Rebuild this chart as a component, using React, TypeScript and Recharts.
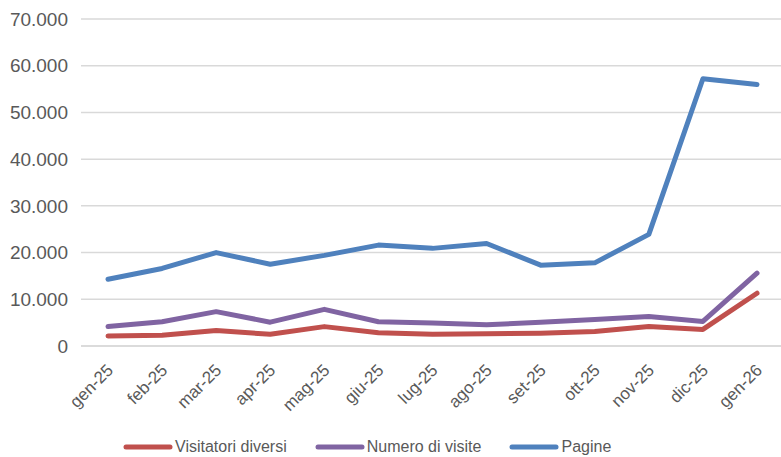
import React from "react";
import { LineChart, Line, XAxis, YAxis, CartesianGrid, Legend } from "recharts";

const months = ["gen-25","feb-25","mar-25","apr-25","mag-25","giu-25","lug-25","ago-25","set-25","ott-25","nov-25","dic-25","gen-26"];
const visitatori = [2150, 2300, 3300, 2500, 4150, 2850, 2500, 2600, 2750, 3100, 4150, 3550, 11300];
const visite = [4150, 5200, 7350, 5100, 7850, 5200, 4950, 4550, 5100, 5650, 6300, 5250, 15600];
const pagine = [14300, 16600, 20000, 17500, 19400, 21600, 20900, 21950, 17300, 17800, 23900, 57200, 56000];
const yTicks = [0, 10000, 20000, 30000, 40000, 50000, 60000, 70000];

const seriesNames = ["Visitatori diversi", "Numero di visite", "Pagine"];
const seriesKeys = ["visitatori", "visite", "pagine"];
const colors = ["#C0504D", "#8064A2", "#4F81BD"];

const data = months.map((m, i) => ({
  month: m,
  visitatori: visitatori[i],
  visite: visite[i],
  pagine: pagine[i],
}));

const FONT = "'Liberation Sans', Arial, sans-serif";
const fmtDots = (v: number) => {
  if (v === 0) return "0";
  return String(v).replace(/\B(?=(\d{3})+(?!\d))/g, ".");
};

const XTick = (props: any) => {
  const { x, y, payload } = props;
  return (
    <g transform={`translate(${x + 2},${y + 13})`}>
      <text
        x={0}
        y={0}
        dy={6}
        textAnchor="end"
        transform="rotate(-45)"
        fill="#595959"
        fontSize={17}
        fontFamily={FONT}
      >
        {payload.value}
      </text>
    </g>
  );
};

const LegendContent = () => (
  <div
    style={{
      display: "flex",
      justifyContent: "flex-start",
      alignItems: "center",
      paddingTop: 12,
      paddingLeft: 123,
      fontFamily: FONT,
      fontSize: 16,
      color: "#595959",
    }}
  >
    {seriesNames.map((n, i) => (
      <div key={n} style={{ display: "flex", alignItems: "center", marginRight: i < 2 ? 28 : 0 }}>
        <svg width={50} height={8} style={{ marginRight: 2 }}>
          <line x1={3} y1={4} x2={47} y2={4} stroke={colors[i]} strokeWidth={5} strokeLinecap="round" />
        </svg>
        <span>{n}</span>
      </div>
    ))}
  </div>
);

export default function App() {
  return (
    <div style={{ position: "absolute", left: 0, top: 0, width: 781, height: 457, background: "#fff" }}>
      <LineChart
        width={781}
        height={457}
        data={data}
        margin={{ top: 19, right: -3, bottom: 0, left: 0 }}
      >
        <CartesianGrid vertical={false} stroke="#D9D9D9" strokeWidth={1.5} />
        <XAxis
          dataKey="month"
          axisLine={{ stroke: "#D9D9D9", strokeWidth: 1.5 }}
          tickLine={false}
          interval={0}
          height={80}
          padding={{ left: 27, right: 27 }}
          tick={<XTick />}
        />
        <YAxis
          width={81}
          domain={[0, 70000]}
          ticks={yTicks}
          axisLine={false}
          tickLine={false}
          tickFormatter={fmtDots}
          tick={{ fill: "#595959", fontSize: 19, fontFamily: FONT }}
          tickMargin={7}
        />
        <Legend verticalAlign="bottom" height={31} content={<LegendContent />} />
        {seriesKeys.map((k, i) => (
          <Line
            key={k}
            type="linear"
            dataKey={k}
            name={seriesNames[i]}
            stroke={colors[i]}
            strokeWidth={5}
            strokeLinecap="round"
            strokeLinejoin="round"
            dot={false}
            activeDot={false}
            isAnimationActive={false}
          />
        ))}
      </LineChart>
    </div>
  );
}
